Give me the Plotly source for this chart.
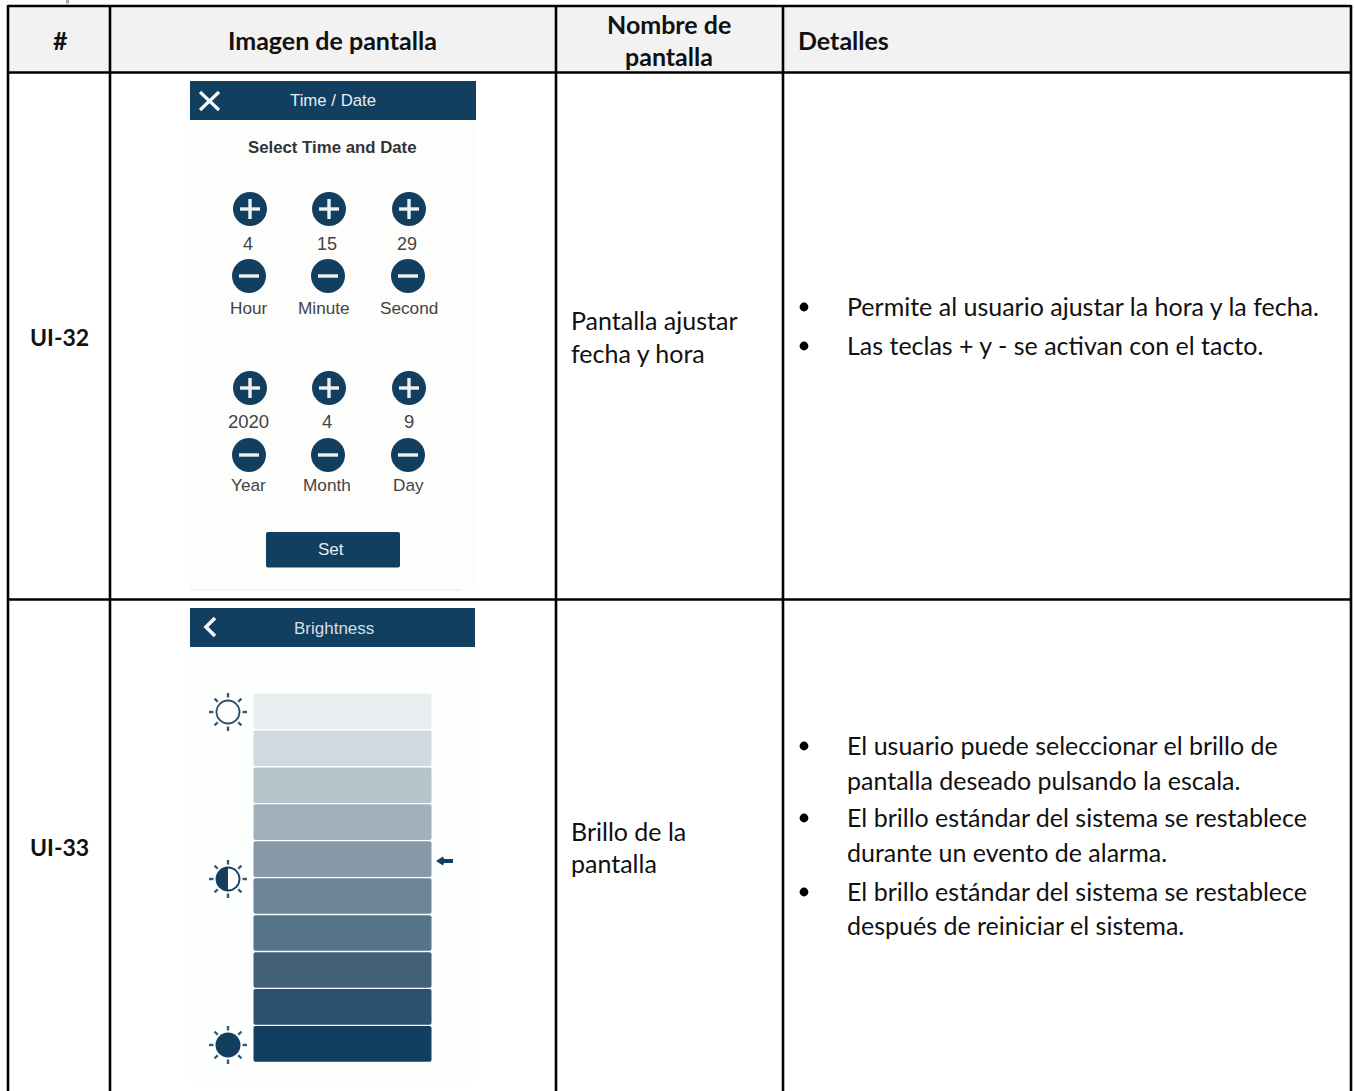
import numpy as np
import plotly.graph_objects as go

# ---------- content ----------
HEADERS = ["#", "Imagen de pantalla", "Nombre de<br>pantalla", "Detalles"]
ROW_IDS = ["UI-32", "UI-33"]
ROW_NAMES = [["Pantalla ajustar", "fecha y hora"], ["Brillo de la", "pantalla"]]
ROW_BULLETS = [
    [["Permite al usuario ajustar la hora y la fecha."],
     ["Las teclas + y - se activan con el tacto."]],
    [["El usuario puede seleccionar el brillo de", "pantalla deseado pulsando la escala."],
     ["El brillo estándar del sistema se restablece", "durante un evento de alarma."],
     ["El brillo estándar del sistema se restablece", "después de reiniciar el sistema."]],
]
SCREEN_TITLES = ["Time / Date", "Brightness"]
SCREEN_SUBTITLE = "Select Time and Date"
TIME_VALUES = ["4", "15", "29"]
TIME_LABELS = ["Hour", "Minute", "Second"]
DATE_VALUES = ["2020", "4", "9"]
DATE_LABELS = ["Year", "Month", "Day"]
SET_LABEL = "Set"
BRIGHTNESS_LEVELS = ["#e8edef", "#d0d9e0", "#b7c4cc", "#a0b1bd", "#8699a8",
                     "#6e8599", "#557389", "#426076", "#2a516f", "#123f60"]

# ---------- geometry (pixels of the page) ----------
W, H = 1354, 1091
COL_X = [8, 110, 556, 783, 1351]
ROW_Y = [6, 72.5, 599.5, 1095]
NAVY = "#123f60"
LATO = "Lato, Carlito, Calibri, sans-serif"
ARIAL = "Liberation Sans, Arial, sans-serif"

shapes, notes = [], []


def text(x, y, s, size, color="#111", font=LATO, bold=False, anchor="center"):
    if font == LATO:
        y -= 1.5
    notes.append(dict(x=x, y=y, xref="x", yref="y", text=f"<b>{s}</b>" if bold else s,
                      showarrow=False, xanchor=anchor, yanchor="middle",
                      font=dict(family=font, size=size, color=color)))


def rect(x0, y0, x1, y1, fill, line=None, lw=0):
    shapes.append(dict(type="rect", x0=x0, y0=y0, x1=x1, y1=y1, fillcolor=fill,
                       line=dict(color=line or fill, width=lw), layer="below"))


def rrect(x0, y0, x1, y1, r, fill):
    p = (f"M{x0+r},{y0} L{x1-r},{y0} Q{x1},{y0} {x1},{y0+r} L{x1},{y1-r} Q{x1},{y1} {x1-r},{y1} "
         f"L{x0+r},{y1} Q{x0},{y1} {x0},{y1-r} L{x0},{y0+r} Q{x0},{y0} {x0+r},{y0} Z")
    shapes.append(dict(type="path", path=p, fillcolor=fill, line=dict(width=0), layer="below"))


def seg(x0, y0, x1, y1, color, w):
    shapes.append(dict(type="line", x0=x0, y0=y0, x1=x1, y1=y1, line=dict(color=color, width=w)))


def circle(cx, cy, r, fill, line=None, lw=0):
    shapes.append(dict(type="circle", x0=cx-r, y0=cy-r, x1=cx+r, y1=cy+r, fillcolor=fill,
                       line=dict(color=line or fill, width=lw)))


def round_button(cx, cy, plus):
    circle(cx, cy, 17, NAVY)
    seg(cx-10, cy, cx+10, cy, "#eef2f5", 3.4)
    if plus:
        seg(cx, cy-10, cx, cy+10, "#eef2f5", 3.4)


def sun(cx, cy, kind):
    for a in np.arange(8) * np.pi / 4:
        seg(cx+14.5*np.cos(a), cy+14.5*np.sin(a), cx+19*np.cos(a), cy+19*np.sin(a), "#3a5a72", 2.4)
    if kind == "light":
        circle(cx, cy, 11.5, "#fdfdfd", "#2f4f68", 1.8)
    elif kind == "half":
        circle(cx, cy, 11.5, "#fdfdfd", NAVY, 1.8)
        t = np.linspace(np.pi/2, 3*np.pi/2, 24)
        pts = " L".join(f"{cx+11.5*np.cos(v):.2f},{cy+11.5*np.sin(v):.2f}" for v in t)
        shapes.append(dict(type="path", path=f"M{pts} Z", fillcolor=NAVY, line=dict(width=0)))
    else:
        circle(cx, cy, 12.5, NAVY)


# ---------- table ----------
rect(COL_X[0], ROW_Y[0], COL_X[-1], ROW_Y[1], "#f2f2f2")
for x in COL_X:
    seg(x, ROW_Y[0] - 1, x, H + 4, "#000", 2.6)
for y in ROW_Y[:3]:
    seg(COL_X[0], y, COL_X[-1], y, "#000", 2.6)
seg(67.5, 0, 67.5, 3.5, "#a6a6a6", 3)

HFS = 25
text(60, 41, HEADERS[0], HFS, bold=True)
text(332, 41, HEADERS[1], HFS, bold=True)
a, b = HEADERS[2].split("<br>")
text(669, 25, a, HFS, bold=True)
text(669, 57, b, HFS, bold=True)
text(796, 41, HEADERS[3], HFS, bold=True, anchor="left")

BFS = 25
for yc, s in zip([338, 848], ROW_IDS):
    text(59, yc, s, 23, bold=True)
for ys, names in zip([[321, 354], [832, 864]], ROW_NAMES):
    for y, s in zip(ys, names):
        text(569, y, s, BFS, anchor="left")

for ys, bullets in zip([[[307], [346]], [[746, 781], [818, 853], [892, 926]]], ROW_BULLETS):
    for yy, lines in zip(ys, bullets):
        circle(804, yy[0], 4.4, "#000")
        for y, s in zip(yy, lines):
            text(845, y, s, BFS, anchor="left")

# ---------- screen 1 ----------
rect(190, 120, 476, 590, "#fdfdfc")
seg(190, 590, 461, 590, "#e6e6e6", 1)
rect(190, 81, 476, 120, NAVY)
seg(200, 92, 219, 110, "#f4f7f9", 3.2)
seg(200, 110, 219, 92, "#f4f7f9", 3.2)
text(333, 100, SCREEN_TITLES[0], 16.8, "#e6ecf0", ARIAL)
text(332, 147, SCREEN_SUBTITLE, 16.8, "#333", ARIAL, bold=True)

COL_BTN = [250, 329, 409]
for cx, val, lab, lx in zip(COL_BTN, TIME_VALUES, TIME_LABELS, [249, 324, 409]):
    round_button(cx, 209, True)
    round_button(cx-1, 276, False)
    text(cx-2, 244, val, 18, "#444", ARIAL)
    text(lx, 308, lab, 17.2, "#444", ARIAL)
for cx, val, lab, vx, lx in zip(COL_BTN, DATE_VALUES, DATE_LABELS, [248, 327, 409], [248, 327, 408]):
    round_button(cx, 388, True)
    round_button(cx-1, 455, False)
    text(vx, 421, val, 18.5, "#444", ARIAL)
    text(lx, 485, lab, 17.2, "#444", ARIAL)
rrect(266, 532, 400, 567.5, 2, NAVY)
text(331, 549, SET_LABEL, 17, "#e6ecf0", ARIAL)

# ---------- screen 2 ----------
rect(190, 647, 475, 1083, "#fdfefe")
rect(190, 608, 475, 647, NAVY)
shapes.append(dict(type="path", path="M215,618 L206,627 L215,636", line=dict(color="#f4f7f9", width=3.6)))
text(334, 628, SCREEN_TITLES[1], 17, "#d5dfe6", ARIAL)

BAR_TOP = 693.5
BAR_PITCH = 36.95
for i, c in enumerate(BRIGHTNESS_LEVELS):
    rrect(253.5, BAR_TOP + i*BAR_PITCH, 431.5, BAR_TOP + i*BAR_PITCH + 35.6, 2, c)

for cy, k in zip([712, 879, 1045], ["light", "half", "dark"]):
    sun(228, cy, k)

shapes.append(dict(type="path", path="M436,861 L443,856.5 L444,859 L453,859 L453,863 L444,863 L443,865.5 Z",
                   fillcolor=NAVY, line=dict(width=0)))

# ---------- figure ----------
fig = go.Figure()
fig.update_layout(
    width=W, height=H, margin=dict(l=0, r=0, t=0, b=0),
    paper_bgcolor="white", plot_bgcolor="white", showlegend=False,
    xaxis=dict(range=[0, W], visible=False, fixedrange=True),
    yaxis=dict(range=[H, 0], visible=False, fixedrange=True),
    shapes=shapes, annotations=notes,
)
fig.write_html("out.html", config=dict(displayModeBar=False),
               post_script="document.body.style.margin='0';document.body.style.overflow='hidden';")
